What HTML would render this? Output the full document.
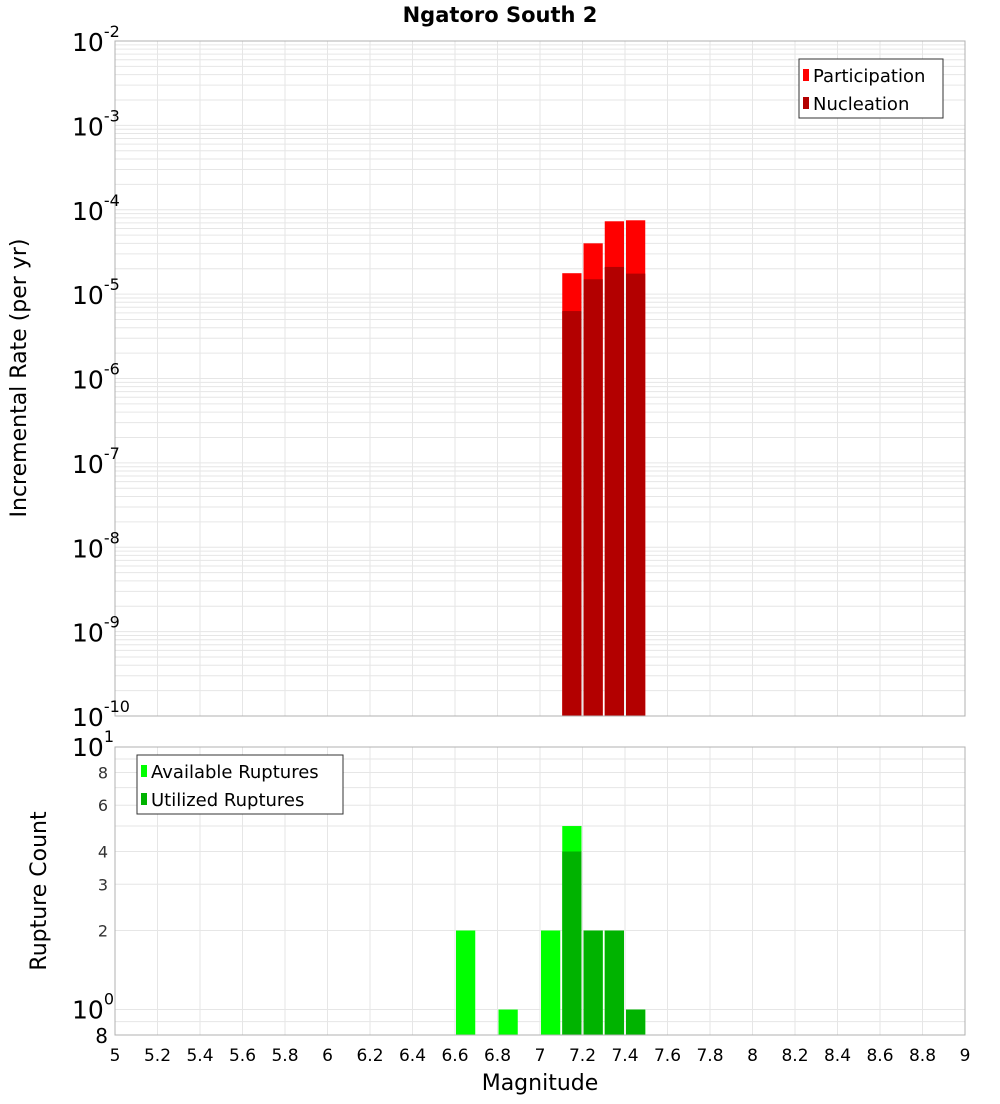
<!DOCTYPE html>
<html><head><meta charset="utf-8"><style>
body{margin:0;background:#fff;font-family:"DejaVu Sans","Liberation Sans",sans-serif}
</style></head><body>
<svg id="c" width="1000" height="1100" xmlns="http://www.w3.org/2000/svg"></svg>
<script>
const centers=[6.65,6.85,7.05,7.15,7.25,7.35,7.45];
const partCenters=[7.15,7.25,7.35,7.45];
const participation=[1.77e-5,4.0e-5,7.3e-5,7.5e-5];
const nucleation=[6.3e-6,1.5e-5,2.1e-5,1.75e-5];
const available=[2,1,2,5,2,2,1];
const utilCenters=[7.15,7.25,7.35,7.45];
const utilized=[4,2,2,1];
const xTicks=[5,5.2,5.4,5.6,5.8,6,6.2,6.4,6.6,6.8,7,7.2,7.4,7.6,7.8,8,8.2,8.4,8.6,8.8,9];

const svg=document.getElementById('c');const NS='http://www.w3.org/2000/svg';
function el(t,a,txt,p){const e=document.createElementNS(NS,t);for(const k in a)e.setAttribute(k,a[k]);if(txt!=null)e.textContent=txt;(p||svg).appendChild(e);return e;}
const L=115,R=965,T1=41,B1=716,T2=747,B2=1035;
const X=v=>L+(v-5)/4*(R-L);
const Y1=v=>B1-(Math.log10(v)+10)/8*(B1-T1);
const lo=Math.log10(0.8);
const Y2=v=>B2-(Math.log10(v)-lo)/(1-lo)*(B2-T2);

// grids
const g=el('g',{});
for(let d=-10;d<-2;d++)for(let m=1;m<10;m++){const y=Y1(m*Math.pow(10,d));el('line',{x1:L,x2:R,y1:y,y2:y,stroke:'#e6e6e6','stroke-width':1},null,g);}
[0.9,1,2,3,4,5,6,7,8,9].forEach(v=>{const y=Y2(v);el('line',{x1:L,x2:R,y1:y,y2:y,stroke:'#e6e6e6'},null,g);});
xTicks.forEach(v=>{const x=X(v);el('line',{x1:x,x2:x,y1:T1,y2:B1,stroke:'#e6e6e6'},null,g);el('line',{x1:x,x2:x,y1:T2,y2:B2,stroke:'#e6e6e6'},null,g);});

const bw=(X(5.1)-X(5))-2;
// top bars
partCenters.forEach((c,i)=>{
 const x=X(c)-bw/2;
 const b=el('rect',{x:x,y:Y1(participation[i]),width:bw,height:B1-Y1(participation[i]),fill:'#ff0000'});
 
 const n=el('rect',{x:x,y:Y1(nucleation[i]),width:bw,height:B1-Y1(nucleation[i]),fill:'#b30000'});
 
});
centers.forEach((c,i)=>{
 const x=X(c)-bw/2;
 const b=el('rect',{x:x,y:Y2(available[i]),width:bw,height:B2-Y2(available[i]),fill:'#00ff00'});
 
});
utilCenters.forEach((c,i)=>{
 const x=X(c)-bw/2;
 const b=el('rect',{x:x,y:Y2(utilized[i]),width:bw,height:B2-Y2(utilized[i]),fill:'#00b300'});
 
});
// frames
el('rect',{x:L,y:T1,width:R-L,height:B1-T1,fill:'none',stroke:'#b0b0b0'});
el('rect',{x:L,y:T2,width:R-L,height:B2-T2,fill:'none',stroke:'#b0b0b0'});
// title
el('text',{x:500,y:22,'text-anchor':'middle','font-size':21,'font-weight':'bold'},'Ngatoro South 2');
// top y labels
for(let d=-10;d<=-2;d++){const y=Y1(Math.pow(10,d));
 const t=el('text',{x:72,y:y+10,'font-size':25},'10');
 el('tspan',{dy:-14,'font-size':16},String(d),t);}
// bottom y labels
[[2,'2'],[3,'3'],[4,'4'],[6,'6'],[8,'8']].forEach(([v,s])=>{el('text',{x:108,y:Y2(v)+6,'text-anchor':'end','font-size':16,fill:'#333'},s);});
let t=el('text',{x:72,y:Y2(10)+9,'font-size':25},'10');el('tspan',{dy:-14,'font-size':16},'1',t);
t=el('text',{x:72,y:Y2(1)+9,'font-size':25},'10');el('tspan',{dy:-14,'font-size':16},'0',t);
el('text',{x:108,y:B2+8,'text-anchor':'end','font-size':20},'8');
// x labels
xTicks.forEach(v=>{const s=el('text',{x:X(v),y:1061,'text-anchor':'middle','font-size':17},String(v));});
el('text',{x:540,y:1090,'text-anchor':'middle','font-size':22},'Magnitude');
el('text',{x:0,y:0,'text-anchor':'middle','font-size':22,transform:'translate(26,378) rotate(-90)'},'Incremental Rate (per yr)');
el('text',{x:0,y:0,'text-anchor':'middle','font-size':22,transform:'translate(46,891) rotate(-90)'},'Rupture Count');
// legends
function legend(x,y,w,h,items,name){const lg=el('g',{});
 el('rect',{x:x,y:y,width:w,height:h,fill:'#fff',stroke:'#333'},null,lg);
 items.forEach((it,i)=>{const yy=y+19+i*28;el('rect',{x:x+4,y:yy-9,width:6,height:12,fill:it[1]},null,lg);el('text',{x:x+14,y:yy+4,'font-size':18},it[0],lg);});}
legend(799,59,144,59,[['Participation','#ff0000'],['Nucleation','#b30000']],'legend-top');
legend(137,755,206,59,[['Available Ruptures','#00ff00'],['Utilized Ruptures','#00b300']],'legend-bottom');
</script>
</body></html>
